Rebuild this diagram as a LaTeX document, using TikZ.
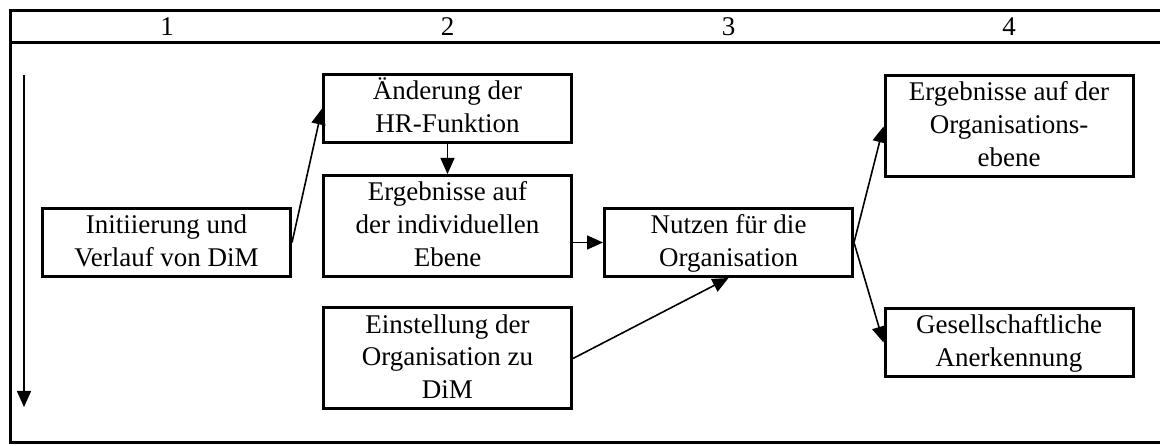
\documentclass[tikz,border=0pt]{standalone}
\usepackage{fontspec}
\setmainfont{Liberation Serif}
\usetikzlibrary{arrows.meta}
\newcommand\mystrut{\rule[-9pt]{0pt}{33pt}}
\tikzset{
  frameline/.style={line width=3pt},
  box/.style={draw, line width=3pt, inner sep=0pt, minimum width=248pt, align=center,
    font=\fontsize{27}{33}\selectfont},
  two/.style={minimum height=68pt},
  three/.style={minimum height=101pt},
  hdr/.style={inner sep=0pt, font=\fontsize{27}{33}\selectfont},
  conn/.style={line width=1.6pt, -{Triangle[length=16pt,width=14pt]}}
}
\begin{document}
\begin{tikzpicture}[x=1pt,y=-1pt]
\useasboundingbox (0,0) rectangle (1160,446);
% frame
\draw[frameline] (1170,11) -- (10,11) -- (10,442) -- (1170,442);
\draw[frameline] (10,43) -- (1170,43);
% header
\node[hdr] (h1) at (167,27) {1};
\node[hdr] (h2) at (447.5,27) {2};
\node[hdr] (h3) at (728.5,27) {3};
\node[hdr] (h4) at (1009,27) {4};
% time arrow
\coordinate (ts) at (24,75);
\coordinate (te) at (24,407);
\draw[conn] (ts) -- (te);
% boxes
\node[box,two] (A) at (166.5,242.5) {\mystrut Initiierung und\\\mystrut Verlauf von DiM};
\node[box,two] (B) at (447.5,108.5) {\mystrut Änderung der\\\mystrut HR-Funktion};
\node[box,three] (C) at (447.5,226) {\mystrut Ergebnisse auf\\\mystrut der individuellen\\\mystrut Ebene};
\node[box,three] (D) at (447.5,358.5) {\mystrut Einstellung der\\\mystrut Organisation zu\\\mystrut DiM};
\node[box,two] (E) at (728.5,242.5) {\mystrut Nutzen für die\\\mystrut Organisation};
\node[box,three] (F) at (1009,126.5) {\mystrut Ergebnisse auf der\\\mystrut Organisations-\\\mystrut ebene};
\node[box,two] (G) at (1009,342.5) {\mystrut Gesellschaftliche\\\mystrut Anerkennung};
% connectors
\draw[conn] (A.east) -- (B.west);
\draw[conn] (B.south) -- (C.north);
\draw[conn] (C.east |- E.west) -- (E.west);
\draw[conn] (D.east) -- (E.south);
\draw[conn] (E.east) -- (F.west);
\draw[conn] (E.east) -- (G.west);
\end{tikzpicture}
\end{document}
